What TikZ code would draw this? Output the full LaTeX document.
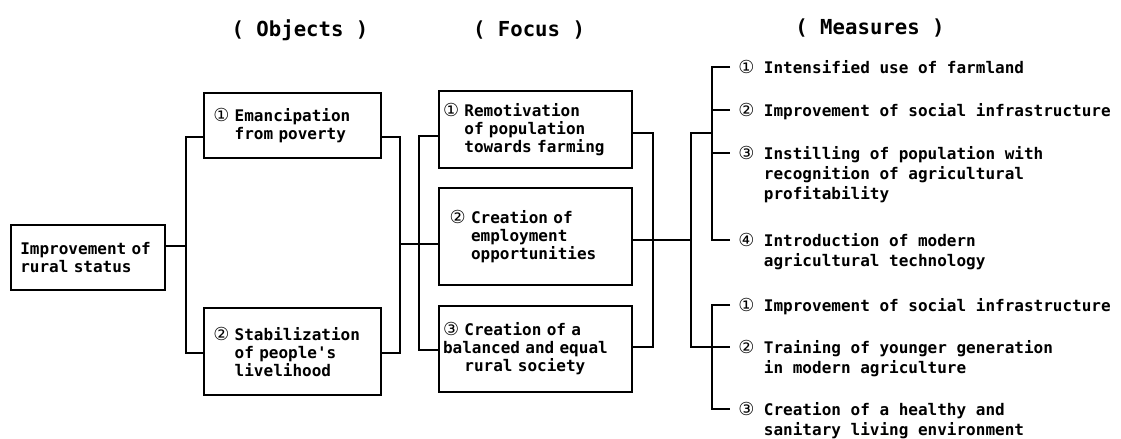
\documentclass[tikz,border=0pt]{standalone}
\usepackage{fontspec}
\setmonofont{DejaVu Sans Mono}
\newfontfamily\circfont{DejaVu Sans}[Scale=1.12]
\newcommand{\cn}[1]{{\circfont\mdseries #1}}
\newcommand{\hang}{\hphantom{\cn{①}\ }}

\begin{document}
\begin{tikzpicture}[
  x=0.75pt,y=-0.75pt,
  font=\ttfamily\bfseries\fontsize{12}{13.5}\selectfont,
  box/.style={draw,line width=1.3pt,align=left,inner ysep=2pt},
  item/.style={anchor=base west,align=left,inner sep=0pt,
               font=\ttfamily\bfseries\fontsize{12}{15}\selectfont},
  head/.style={font=\ttfamily\bfseries\fontsize{15.5}{18}\selectfont},
  wire/.style={line width=1.3pt},
  stub/.style={wire,shorten >=6pt}
]
\fill[white] (0,0) rectangle (1121,439);
\useasboundingbox (0,0) rectangle (1121,439);

\node[head] (tobj) at (300,30) {( Objects )};
\node[head] (tfoc) at (529,30) {( Focus )};
\node[head] (tmea) at (870,28) {( Measures )};

\node[box,inner xsep=7pt,text width=101.5pt,minimum height=48.75pt] (root) at (88,257.5)
  {Improvement of\\rural status};
\node[box,inner xsep=7pt,text width=118.75pt,minimum height=48.75pt] (o1) at (292.5,125.5)
  {\cn{①} Emancipation\\\hang from poverty};
\node[box,inner xsep=7pt,text width=118.75pt,minimum height=65.25pt] (o2) at (292.5,351.5)
  {\cn{②} Stabilization\\\hang of people's\\\hang livelihood};
\node[box,inner xsep=3pt,text width=138.75pt,minimum height=57.75pt] (f1) at (535.5,129.5)
  {\cn{①} Remotivation\\\hang of population\\\hang towards farming};
\node[box,inner xsep=8pt,text width=128.75pt,minimum height=72.75pt] (f2) at (535.5,236.5)
  {\cn{②} Creation of\\\hang employment\\\hang opportunities};
\node[box,inner xsep=3pt,text width=138.75pt,minimum height=64.5pt] (f3) at (535.5,349)
  {\cn{③} Creation of a\\balanced and equal\\\hang rural society};

\node[item] (a1) at (738,73)  {\cn{①} Intensified use of farmland};
\node[item] (a2) at (738,116) {\cn{②} Improvement of social infrastructure};
\node[item] (a3) at (738,199) {\cn{③} Instilling of population with\\\hang recognition of agricultural\\\hang profitability};
\node[item] (a4) at (738,266) {\cn{④} Introduction of modern\\\hang agricultural technology};
\node[item] (b1) at (738,311) {\cn{①} Improvement of social infrastructure};
\node[item] (b2) at (738,373) {\cn{②} Training of younger generation\\\hang in modern agriculture};
\node[item] (b3) at (738,435) {\cn{③} Creation of a healthy and\\\hang sanitary living environment};

\coordinate (oL)  at (186,246);
\coordinate (oLt) at (186,137);
\coordinate (oLb) at (186,353);
\coordinate (oR)  at (400,244);
\coordinate (oRt) at (400,137);
\coordinate (oRb) at (400,353);
\coordinate (fLt) at (419,136);
\coordinate (fLb) at (419,350);
\coordinate (fRt) at (653,133);
\coordinate (fRb) at (653,347);
\coordinate (sp)  at (691,240);
\coordinate (spT) at (691,133);
\coordinate (spB) at (691,347);
\coordinate (gA1) at (712,67);
\coordinate (gA2) at (712,110);
\coordinate (gA3) at (712,153);
\coordinate (gA4) at (712,240);
\coordinate (gB1) at (712,305);
\coordinate (gB2) at (712,347);
\coordinate (gB3) at (712,409);

\draw[wire] (root.east |- oL) -- (oL);
\draw[wire] (o1.west |- oLt) -- (oLt) -- (oLb) -- (o2.west |- oLb);
\draw[wire] (o1.east |- oRt) -- (oRt) -- (oRb) -- (o2.east |- oRb);
\draw[wire] (oR) -- (f2.west |- oR);
\draw[wire] (f1.west |- fLt) -- (fLt) -- (fLb) -- (f3.west |- fLb);
\draw[wire] (f1.east |- fRt) -- (fRt) -- (fRb) -- (f3.east |- fRb);
\draw[wire] (f2.east |- sp) -- (sp);
\draw[wire] (gA1 |- spT) -- (spT) -- (spB) -- (gB2);

\draw[wire,shorten <=6pt,shorten >=6pt] (a1.west |- gA1) -- (gA1) -- (gA4) -- (a4.west |- gA4);
\draw[stub] (gA2) -- (a2.west |- gA2);
\draw[stub] (gA3) -- (a3.west |- gA3);
\draw[wire,shorten <=6pt,shorten >=6pt] (b1.west |- gB1) -- (gB1) -- (gB3) -- (b3.west |- gB3);
\draw[stub] (gB2) -- (b2.west |- gB2);
\end{tikzpicture}
\end{document}
